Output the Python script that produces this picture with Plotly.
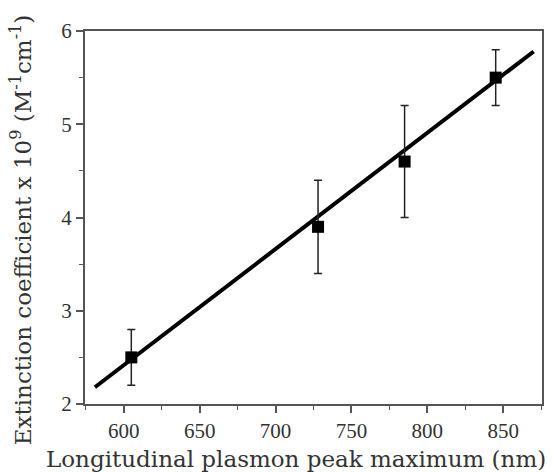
import plotly.graph_objects as go

peak_nm = [605, 728, 785, 845]
ext_coeff = [2.5, 3.9, 4.6, 5.5]
ext_err = [0.3, 0.5, 0.6, 0.3]
fit_x = [581, 870]
fit_y = [2.18, 5.78]
x_ticks = [600, 650, 700, 750, 800, 850]
y_ticks = [2, 3, 4, 5, 6]
x_title = "Longitudinal plasmon peak maximum (nm)"
y_title = "Extinction coefficient x 10<sup>9</sup> (M<sup>-1</sup>cm<sup>-1</sup>)"

TICK_FONT = "Liberation Serif"
TITLE_FONT = "DejaVu Serif"

fig = go.Figure()
fig.add_trace(go.Scatter(x=fit_x, y=fit_y, mode="lines",
                         line=dict(color="black", width=4), showlegend=False))
fig.add_trace(go.Scatter(x=peak_nm, y=ext_coeff, mode="markers",
                         marker=dict(symbol="square", size=12, color="black"),
                         error_y=dict(type="data", array=ext_err, color="#222",
                                      thickness=1.5, width=4),
                         showlegend=False))

axis_common = dict(showline=True, linecolor="#555", linewidth=2, mirror=True,
                   ticks="outside", ticklen=7, tickwidth=1.5, tickcolor="#555",
                   showgrid=False, zeroline=False,
                   tickfont=dict(family=TICK_FONT, size=21, color="#333"))

fig.update_xaxes(range=[574.5, 875.5], tickvals=x_ticks,
                 minor=dict(ticks="outside", ticklen=4, tickwidth=1.2, tickcolor="#555", dtick=25, tick0=575),
                 **axis_common)
fig.update_yaxes(range=[2, 6], tickvals=y_ticks,
                 minor=dict(ticks="outside", ticklen=4, tickwidth=1.2, tickcolor="#555", dtick=0.5),
                 **axis_common)

# plot area: x 85..544 px, y 31..404 px
fig.add_annotation(text=x_title, xref="paper", yref="paper",
                   x=(297 - 85) / 459, y=-(459 - 404) / 373,
                   xanchor="center", yanchor="middle", showarrow=False,
                   font=dict(family=TITLE_FONT, size=23, color="#333"))
fig.add_annotation(text=y_title, xref="paper", yref="paper",
                   x=-(85 - 21) / 459, y=(404 - 230) / 373,
                   xanchor="center", yanchor="middle", showarrow=False, textangle=-90,
                   font=dict(family=TITLE_FONT, size=23, color="#333"))

fig.update_layout(width=553, height=472, margin=dict(l=85, r=9, t=31, b=68),
                  plot_bgcolor="white", paper_bgcolor="white")
fig.write_html("out.html")
